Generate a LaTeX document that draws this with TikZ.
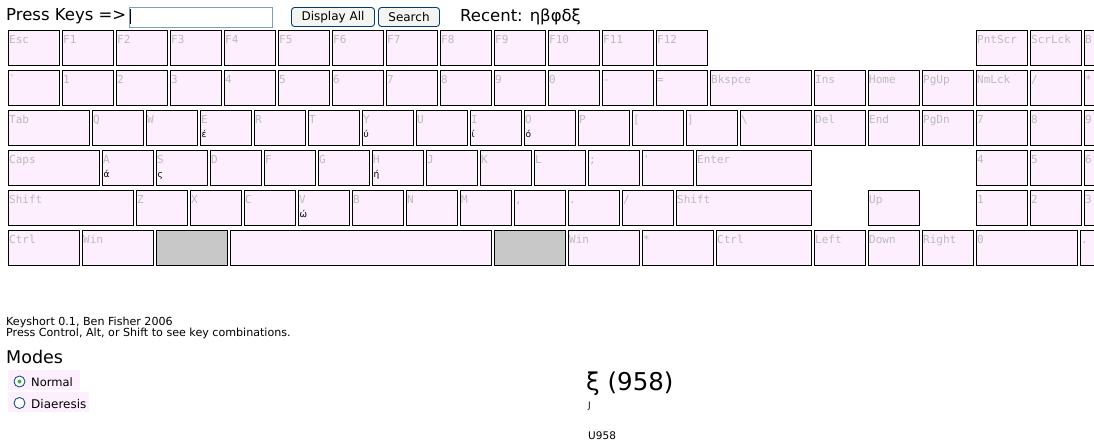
\documentclass[tikz,border=0pt]{standalone}
\usepackage{fontspec}
\newfontfamily\dvs{DejaVu Sans}
\newfontfamily\dvm{DejaVu Sans Mono}
\definecolor{keyfill}{RGB}{253,239,253}
\definecolor{keygray}{RGB}{200,200,200}
\definecolor{lblgray}{RGB}{188,188,188}
\definecolor{inpborder}{RGB}{127,157,185}
\definecolor{btnborder}{RGB}{0,60,116}
\definecolor{btnfill}{RGB}{244,244,240}
\definecolor{radioborder}{RGB}{28,81,128}
\definecolor{radiodot}{RGB}{60,180,60}
\tikzset{
 keybox/.style={draw=black, line width=1.1pt, fill=keyfill, minimum height=35pt, inner sep=0pt, outer sep=0pt, anchor=north west},
 graykey/.style={keybox, fill=keygray},
 keylbl/.style={anchor=base west, inner sep=0pt, text=lblgray, font=\dvm\fontsize{11}{13}\selectfont},
 altlbl/.style={anchor=base west, inner sep=0pt, text=black, font=\dvs\fontsize{9}{11}\selectfont},
 txt/.style={anchor=base west, inner sep=0pt, text=black},
 btn/.style={draw=btnborder, fill=btnfill, rounded corners=3pt, minimum height=19pt, inner sep=0pt, line width=0.9pt, font=\dvs\fontsize{12}{14}\selectfont},
 pinkbox/.style={fill=keyfill, minimum height=20pt, inner sep=0pt, anchor=north west},
 radio/.style={circle, draw=radioborder, fill=white, minimum size=11pt, inner sep=0pt, line width=0.9pt},
}
\newcommand\kb[5]{%
 \node[keybox, minimum width=#4pt-1pt] (#1) at (#2+0.5,#3+0.5) {};
 \node[keylbl] (#1l) at ([xshift=0.5pt,yshift=-13pt]#1.north west) {#5};
}
\newcommand\alt[2]{%
 \node[altlbl] (#1alt) at ([xshift=1pt,yshift=-26.5pt]#1.north west) {#2};
}
\begin{document}
\begin{tikzpicture}[x=1pt,y=-1pt]
\useasboundingbox (0,0) rectangle (1094,445);
% top bar
\node[txt, font=\dvs\fontsize{16.5}{19}\selectfont] (press) at (6,20) {Press Keys =>};
\node[draw=inpborder, fill=white, line width=1pt, minimum width=143pt, minimum height=20pt, anchor=north west, inner sep=0pt] (input) at (128.5,6.5) {};
\node[fill=black, minimum width=1pt, minimum height=15pt, inner sep=0pt, anchor=north west] (cursor) at (130,9) {};
\node[btn, minimum width=83pt] (disp) at (333,17) {Display All};
\node[btn, minimum width=61pt] (search) at (409,17) {Search};
\node[txt, font=\dvs\fontsize{16.5}{19}\selectfont] (recent) at (460,21) {Recent: ηβφδξ};
% row 1
\kb{kesc}{8}{30}{52}{Esc}
\kb{kf1}{62}{30}{52}{F1}
\kb{kf2}{116}{30}{52}{F2}
\kb{kf3}{170}{30}{52}{F3}
\kb{kf4}{224}{30}{52}{F4}
\kb{kf5}{278}{30}{52}{F5}
\kb{kf6}{332}{30}{52}{F6}
\kb{kf7}{386}{30}{52}{F7}
\kb{kf8}{440}{30}{52}{F8}
\kb{kf9}{494}{30}{52}{F9}
\kb{kf10}{548}{30}{52}{F10}
\kb{kf11}{602}{30}{52}{F11}
\kb{kf12}{656}{30}{52}{F12}
\kb{kpnt}{976}{30}{52}{PntScr}
\kb{kscr}{1030}{30}{52}{ScrLck}
\kb{kbrk}{1084}{30}{52}{B}
% row 2
\kb{kgrave}{8}{70}{52}{`}
\kb{kn1}{62}{70}{52}{1}
\kb{kn2}{116}{70}{52}{2}
\kb{kn3}{170}{70}{52}{3}
\kb{kn4}{224}{70}{52}{4}
\kb{kn5}{278}{70}{52}{5}
\kb{kn6}{332}{70}{52}{6}
\kb{kn7}{386}{70}{52}{7}
\kb{kn8}{440}{70}{52}{8}
\kb{kn9}{494}{70}{52}{9}
\kb{kn0}{548}{70}{52}{0}
\kb{kminus}{602}{70}{52}{-}
\kb{kequal}{656}{70}{52}{=}
\kb{kbksp}{710}{70}{102}{Bkspce}
\kb{kins}{814}{70}{52}{Ins}
\kb{khome}{868}{70}{52}{Home}
\kb{kpgup}{922}{70}{52}{PgUp}
\kb{knmlck}{976}{70}{52}{NmLck}
\kb{kpdiv}{1030}{70}{52}{/}
\kb{kpmul}{1084}{70}{52}{*}
% row 3
\kb{ktab}{8}{110}{82}{Tab}
\kb{kq}{92}{110}{52}{Q}
\kb{kw}{146}{110}{52}{W}
\kb{ke}{200}{110}{52}{E}
\kb{kr}{254}{110}{52}{R}
\kb{kt}{308}{110}{52}{T}
\kb{ky}{362}{110}{52}{Y}
\kb{ku}{416}{110}{52}{U}
\kb{ki}{470}{110}{52}{I}
\kb{ko}{524}{110}{52}{O}
\kb{kp}{578}{110}{52}{P}
\kb{klbr}{632}{110}{52}{[}
\kb{krbr}{686}{110}{52}{]}
\kb{kbsl}{740}{110}{72}{\textbackslash}
\kb{kdel}{814}{110}{52}{Del}
\kb{kend}{868}{110}{52}{End}
\kb{kpgdn}{922}{110}{52}{PgDn}
\kb{kp7}{976}{110}{52}{7}
\kb{kp8}{1030}{110}{52}{8}
\kb{kp9}{1084}{110}{52}{9}
% row 4
\kb{kcaps}{8}{150}{92}{Caps}
\kb{ka}{102}{150}{52}{A}
\kb{ks}{156}{150}{52}{S}
\kb{kd}{210}{150}{52}{D}
\kb{kf}{264}{150}{52}{F}
\kb{kg}{318}{150}{52}{G}
\kb{kh}{372}{150}{52}{H}
\kb{kj}{426}{150}{52}{J}
\kb{kk}{480}{150}{52}{K}
\kb{kl}{534}{150}{52}{L}
\kb{ksemi}{588}{150}{52}{;}
\kb{kquote}{642}{150}{52}{'}
\kb{kenter}{696}{150}{116}{Enter}
\kb{kp4}{976}{150}{52}{4}
\kb{kp5}{1030}{150}{52}{5}
\kb{kp6}{1084}{150}{52}{6}
% row 5
\kb{klshift}{8}{190}{126}{Shift}
\kb{kz}{136}{190}{52}{Z}
\kb{kx}{190}{190}{52}{X}
\kb{kc}{244}{190}{52}{C}
\kb{kv}{298}{190}{52}{V}
\kb{kb}{352}{190}{52}{B}
\kb{kn}{406}{190}{52}{N}
\kb{km}{460}{190}{52}{M}
\kb{kcomma}{514}{190}{52}{,}
\kb{kperiod}{568}{190}{52}{.}
\kb{kslash}{622}{190}{52}{/}
\kb{krshift}{676}{190}{136}{Shift}
\kb{kup}{868}{190}{52}{Up}
\kb{kp1}{976}{190}{52}{1}
\kb{kp2}{1030}{190}{52}{2}
\kb{kp3}{1084}{190}{52}{3}
% row 6
\kb{klctrl}{8}{230}{72}{Ctrl}
\kb{klwin}{82}{230}{72}{Win}
\node[graykey, minimum width=71pt] (klalt) at (156.5,230.5) {};
\node[keybox, minimum width=261pt] (kspace) at (230.5,230.5) {};
\node[graykey, minimum width=71pt] (kralt) at (494.5,230.5) {};
\kb{krwin}{568}{230}{72}{Win}
\kb{kmenu}{642}{230}{72}{*}
\kb{krctrl}{716}{230}{96}{Ctrl}
\kb{kleft}{814}{230}{52}{Left}
\kb{kdown}{868}{230}{52}{Down}
\kb{kright}{922}{230}{52}{Right}
\kb{kp0}{976}{230}{102}{0}
\kb{kpdot}{1080}{230}{52}{.}
% alternate characters
\alt{ke}{έ}
\alt{ky}{ύ}
\alt{ki}{ί}
\alt{ko}{ό}
\alt{ka}{ά}
\alt{ks}{ς}
\alt{kh}{ή}
\alt{kv}{ώ}
% bottom texts
\node[txt, font=\dvs\fontsize{11.1}{12}\selectfont] (credit) at (6,325) {Keyshort 0.1, Ben Fisher 2006};
\node[txt, font=\dvs\fontsize{11.1}{12}\selectfont] (hint) at (6,336) {Press Control, Alt, or Shift to see key combinations.};
\node[txt, font=\dvs\fontsize{17.5}{20}\selectfont] (modes) at (6,363) {Modes};
\node[pinkbox, minimum width=72pt] (normbox) at (8,370) {};
\node[pinkbox, minimum width=81pt] (diabox) at (8,392) {};
\node[radio] (rnorm) at (19.5,381.5) {};
\node[circle, fill=radiodot, minimum size=4pt, inner sep=0pt] (rnormdot) at (rnorm.center) {};
\node[radio] (rdia) at (19.5,403) {};
\node[txt, font=\dvs\fontsize{11.5}{14}\selectfont] (normal) at (31,386) {Normal};
\node[txt, font=\dvs\fontsize{12}{14}\selectfont] (dia) at (31,408) {Diaeresis};
% character info
\node[txt, font=\dvs\fontsize{24.5}{28}\selectfont] (bigchar) at (586,390) {ξ (958)};
\node[txt, font=\dvs\fontsize{9}{11}\selectfont] (jchar) at (588,408) {J};
\node[txt, font=\dvs\fontsize{10.5}{12}\selectfont] (ucode) at (588,439) {U958};
\end{tikzpicture}
\end{document}
